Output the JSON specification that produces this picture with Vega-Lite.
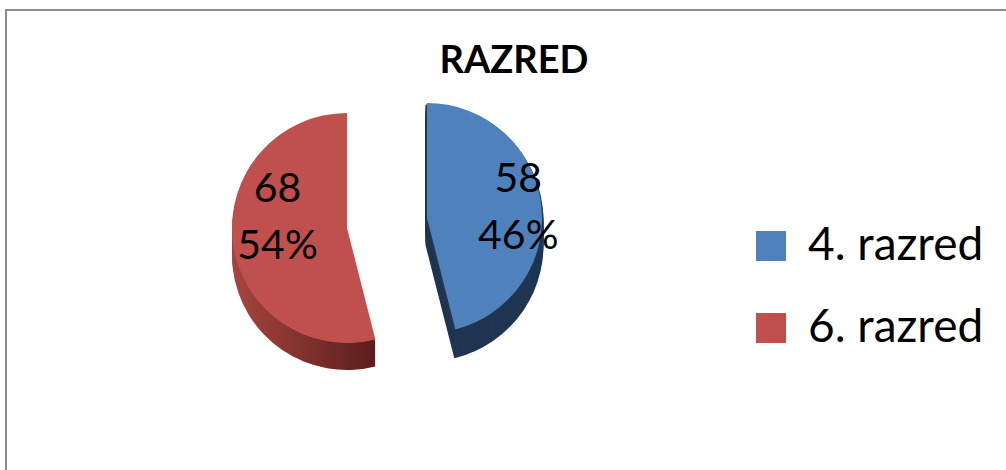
{
  "$schema": "https://vega.github.io/schema/vega-lite/v6.json",
  "width": 1002,
  "height": 462,
  "autosize": "none",
  "padding": {"left": 6, "top": 10, "right": 0, "bottom": 0},
  "background": "white",
  "title": {
    "text": "RAZRED",
    "font": "Lato",
    "fontSize": 38,
    "fontWeight": "bold",
    "color": "black",
    "anchor": "middle",
    "frame": "group",
    "offset": -72,
    "dx": 7
  },
  "datasets": {
    "frame": [{"name": "border"}],
    "slices": [
      {"category": "4. razred", "value": 58, "label": "58\n46%"},
      {"category": "6. razred", "value": 68, "label": "68\n54%"}
    ]
  },
  "data": {"name": "slices"},
  "encoding": {
    "theta": {"field": "value", "type": "quantitative", "stack": true},
    "order": {"field": "category", "type": "nominal"}
  },
  "layer": [
    {"data": {"name": "frame"}, "mark": {"type": "rect", "fill": "white", "stroke": "#8c8c8c", "strokeWidth": 2}, "encoding": {"theta": null, "order": null}},
    {"mark": {"type": "arc", "radius": 115, "xOffset": -80, "yOffset": 4, "color": "#1f3552", "stroke": "#1f3552", "strokeWidth": 3}, "encoding": {"opacity": {"condition": {"test": "datum.category === '4. razred'", "value": 1}, "value": 0}}},
    {"mark": {"type": "arc", "radius": 115, "xOffset": -80, "yOffset": 1, "color": "#1f3552", "stroke": "#1f3552", "strokeWidth": 3}, "encoding": {"opacity": {"condition": {"test": "datum.category === '4. razred'", "value": 1}, "value": 0}}},
    {"mark": {"type": "arc", "radius": 115, "xOffset": -80, "yOffset": -2, "color": "#1f3552", "stroke": "#1f3552", "strokeWidth": 3}, "encoding": {"opacity": {"condition": {"test": "datum.category === '4. razred'", "value": 1}, "value": 0}}},
    {"mark": {"type": "arc", "radius": 115, "xOffset": -80, "yOffset": -5, "color": "#1f3552", "stroke": "#1f3552", "strokeWidth": 3}, "encoding": {"opacity": {"condition": {"test": "datum.category === '4. razred'", "value": 1}, "value": 0}}},
    {"mark": {"type": "arc", "radius": 115, "xOffset": -80, "yOffset": -8, "color": "#1f3552", "stroke": "#1f3552", "strokeWidth": 3}, "encoding": {"opacity": {"condition": {"test": "datum.category === '4. razred'", "value": 1}, "value": 0}}},
    {"mark": {"type": "arc", "radius": 115, "xOffset": -80, "yOffset": -11, "color": "#1f3552", "stroke": "#1f3552", "strokeWidth": 3}, "encoding": {"opacity": {"condition": {"test": "datum.category === '4. razred'", "value": 1}, "value": 0}}},
    {"mark": {"type": "arc", "radius": 115, "xOffset": -80, "yOffset": -14, "color": "#1f3552", "stroke": "#1f3552", "strokeWidth": 3}, "encoding": {"opacity": {"condition": {"test": "datum.category === '4. razred'", "value": 1}, "value": 0}}},
    {"mark": {"type": "arc", "radius": 115, "xOffset": -80, "yOffset": -17, "color": "#1f3552", "stroke": "#1f3552", "strokeWidth": 3}, "encoding": {"opacity": {"condition": {"test": "datum.category === '4. razred'", "value": 1}, "value": 0}}},
    {"mark": {"type": "arc", "radius": 115, "xOffset": -80, "yOffset": -20, "color": "#1f3552", "stroke": "#1f3552", "strokeWidth": 3}, "encoding": {"opacity": {"condition": {"test": "datum.category === '4. razred'", "value": 1}, "value": 0}}},
    {"mark": {"type": "arc", "radius": 115, "xOffset": -160, "yOffset": 14, "fill": {"gradient": "linear", "x1": 0, "y1": 0, "x2": 1, "y2": 0, "stops": [{"offset": 0, "color": "#a8443f"}, {"offset": 1, "color": "#5a1e1c"}]}}, "encoding": {"opacity": {"condition": {"test": "datum.category === '6. razred'", "value": 1}, "value": 0}}},
    {"mark": {"type": "arc", "radius": 115, "xOffset": -160, "yOffset": 12, "fill": {"gradient": "linear", "x1": 0, "y1": 0, "x2": 1, "y2": 0, "stops": [{"offset": 0, "color": "#a8443f"}, {"offset": 1, "color": "#5a1e1c"}]}}, "encoding": {"opacity": {"condition": {"test": "datum.category === '6. razred'", "value": 1}, "value": 0}}},
    {"mark": {"type": "arc", "radius": 115, "xOffset": -160, "yOffset": 10, "fill": {"gradient": "linear", "x1": 0, "y1": 0, "x2": 1, "y2": 0, "stops": [{"offset": 0, "color": "#a8443f"}, {"offset": 1, "color": "#5a1e1c"}]}}, "encoding": {"opacity": {"condition": {"test": "datum.category === '6. razred'", "value": 1}, "value": 0}}},
    {"mark": {"type": "arc", "radius": 115, "xOffset": -160, "yOffset": 8, "fill": {"gradient": "linear", "x1": 0, "y1": 0, "x2": 1, "y2": 0, "stops": [{"offset": 0, "color": "#a8443f"}, {"offset": 1, "color": "#5a1e1c"}]}}, "encoding": {"opacity": {"condition": {"test": "datum.category === '6. razred'", "value": 1}, "value": 0}}},
    {"mark": {"type": "arc", "radius": 115, "xOffset": -160, "yOffset": 6, "fill": {"gradient": "linear", "x1": 0, "y1": 0, "x2": 1, "y2": 0, "stops": [{"offset": 0, "color": "#a8443f"}, {"offset": 1, "color": "#5a1e1c"}]}}, "encoding": {"opacity": {"condition": {"test": "datum.category === '6. razred'", "value": 1}, "value": 0}}},
    {"mark": {"type": "arc", "radius": 115, "xOffset": -160, "yOffset": 4, "fill": {"gradient": "linear", "x1": 0, "y1": 0, "x2": 1, "y2": 0, "stops": [{"offset": 0, "color": "#a8443f"}, {"offset": 1, "color": "#5a1e1c"}]}}, "encoding": {"opacity": {"condition": {"test": "datum.category === '6. razred'", "value": 1}, "value": 0}}},
    {"mark": {"type": "arc", "radius": 115, "xOffset": -160, "yOffset": 2, "fill": {"gradient": "linear", "x1": 0, "y1": 0, "x2": 1, "y2": 0, "stops": [{"offset": 0, "color": "#a8443f"}, {"offset": 1, "color": "#5a1e1c"}]}}, "encoding": {"opacity": {"condition": {"test": "datum.category === '6. razred'", "value": 1}, "value": 0}}},
    {"mark": {"type": "arc", "radius": 115, "xOffset": -160, "yOffset": 0, "fill": {"gradient": "linear", "x1": 0, "y1": 0, "x2": 1, "y2": 0, "stops": [{"offset": 0, "color": "#a8443f"}, {"offset": 1, "color": "#5a1e1c"}]}}, "encoding": {"opacity": {"condition": {"test": "datum.category === '6. razred'", "value": 1}, "value": 0}}},
    {"mark": {"type": "arc", "radius": 115, "xOffset": -160, "yOffset": -2, "fill": {"gradient": "linear", "x1": 0, "y1": 0, "x2": 1, "y2": 0, "stops": [{"offset": 0, "color": "#a8443f"}, {"offset": 1, "color": "#5a1e1c"}]}}, "encoding": {"opacity": {"condition": {"test": "datum.category === '6. razred'", "value": 1}, "value": 0}}},
    {"mark": {"type": "arc", "radius": 115, "xOffset": -160, "yOffset": -4, "fill": {"gradient": "linear", "x1": 0, "y1": 0, "x2": 1, "y2": 0, "stops": [{"offset": 0, "color": "#a8443f"}, {"offset": 1, "color": "#5a1e1c"}]}}, "encoding": {"opacity": {"condition": {"test": "datum.category === '6. razred'", "value": 1}, "value": 0}}},
    {"mark": {"type": "arc", "radius": 115, "xOffset": -160, "yOffset": -6, "fill": {"gradient": "linear", "x1": 0, "y1": 0, "x2": 1, "y2": 0, "stops": [{"offset": 0, "color": "#a8443f"}, {"offset": 1, "color": "#5a1e1c"}]}}, "encoding": {"opacity": {"condition": {"test": "datum.category === '6. razred'", "value": 1}, "value": 0}}},
    {"mark": {"type": "arc", "radius": 115, "xOffset": -160, "yOffset": -8, "fill": {"gradient": "linear", "x1": 0, "y1": 0, "x2": 1, "y2": 0, "stops": [{"offset": 0, "color": "#a8443f"}, {"offset": 1, "color": "#5a1e1c"}]}}, "encoding": {"opacity": {"condition": {"test": "datum.category === '6. razred'", "value": 1}, "value": 0}}},
    {"mark": {"type": "arc", "radius": 115, "xOffset": -160, "yOffset": -10, "fill": {"gradient": "linear", "x1": 0, "y1": 0, "x2": 1, "y2": 0, "stops": [{"offset": 0, "color": "#a8443f"}, {"offset": 1, "color": "#5a1e1c"}]}}, "encoding": {"opacity": {"condition": {"test": "datum.category === '6. razred'", "value": 1}, "value": 0}}},
    {"mark": {"type": "arc", "radius": 115, "xOffset": -80, "yOffset": -23},
     "encoding": {
       "color": {"field": "category", "type": "nominal", "title": null,
                 "scale": {"domain": ["4. razred", "6. razred"], "range": ["#4f81bd", "#c0504d"]},
                 "legend": {"orient": "none", "legendX": 742, "legendY": 213, "padding": 0, "symbolType": "square", "symbolSize": 900, "symbolStrokeWidth": 0, "symbolOpacity": 1, "labelFont": "Lato", "labelFontSize": 46, "labelColor": "black", "labelOffset": 14, "rowPadding": 36, "labelLimit": 400}},
       "opacity": {"condition": {"test": "datum.category === '4. razred'", "value": 1}, "value": 0}}},
    {"mark": {"type": "arc", "radius": 115, "xOffset": -160, "yOffset": -13},
     "encoding": {
       "color": {"field": "category", "type": "nominal", "title": null},
       "opacity": {"condition": {"test": "datum.category === '6. razred'", "value": 1}, "value": 0}}},
    {"mark": {"type": "text", "radius": 92, "xOffset": -80, "yOffset": -50, "font": "Lato", "fontSize": 41, "lineHeight": 57, "lineBreak": "\n", "color": "black", "align": "center", "baseline": "middle"},
     "encoding": {
       "text": {"field": "label", "type": "nominal"},
       "opacity": {"condition": {"test": "datum.category === '4. razred'", "value": 1}, "value": 0}}},
    {"mark": {"type": "text", "radius": 70, "xOffset": -160, "yOffset": -60, "font": "Lato", "fontSize": 41, "lineHeight": 57, "lineBreak": "\n", "color": "black", "align": "center", "baseline": "middle"},
     "encoding": {
       "text": {"field": "label", "type": "nominal"},
       "opacity": {"condition": {"test": "datum.category === '6. razred'", "value": 1}, "value": 0}}}
  ]
}
